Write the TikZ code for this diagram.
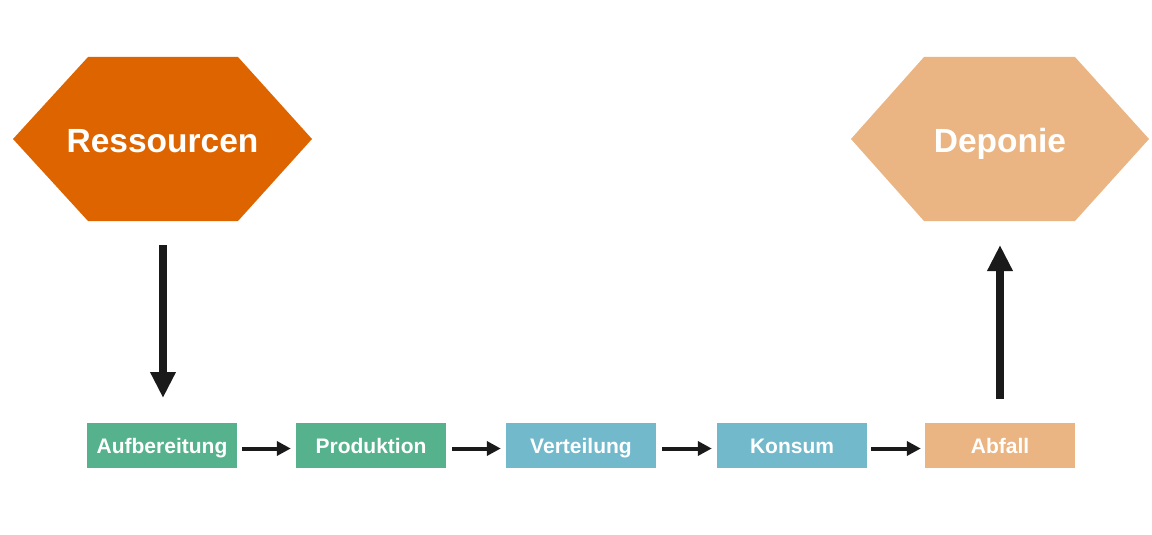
\documentclass[tikz,border=0pt]{standalone}
\usepackage{fontspec}
\setmainfont{Liberation Sans}
\usetikzlibrary{arrows.meta}
\definecolor{cRes}{HTML}{DE6400}
\definecolor{cDep}{HTML}{EBB483}
\definecolor{cGreen}{HTML}{56B28C}
\definecolor{cBlue}{HTML}{72B9CC}
\definecolor{cArrow}{HTML}{1A1A1A}
\tikzset{
  stepbox/.style={rectangle, minimum width=150pt, minimum height=45pt, inner sep=0pt,
    text height=15pt, text depth=0pt,
    text=white, font=\fontsize{21}{24}\selectfont\bfseries},
  hextext/.style={text=white, font=\fontsize{33.5}{38}\selectfont\bfseries, inner sep=0pt,
    text height=24pt, text depth=0pt},
  bigarrow/.style={draw=cArrow, line width=8pt, -{Triangle[length=26pt,width=24pt]}},
  smallarrow/.style={draw=cArrow, line width=4pt, -{Triangle[length=14pt,width=14pt]}},
}
\begin{document}
\begin{tikzpicture}[x=1pt,y=-1pt]
\useasboundingbox (0,0) rectangle (1152,535);
% hexagons
\fill[cRes] (13,139) -- (88,57) -- (238,57) -- (312,139) -- (238,221) -- (88,221) -- cycle;
\node[hextext] (res) at (162.5,140) {Ressourcen};
\fill[cDep] (851,139) -- (924,57) -- (1075,57) -- (1149,139) -- (1075,221) -- (924,221) -- cycle;
\node[hextext] (dep) at (1000,140) {Deponie};
% boxes
\node[stepbox, fill=cGreen] (auf) at (162,445.5) {Aufbereitung};
\node[stepbox, fill=cGreen] (pro) at (371,445.5) {Produktion};
\node[stepbox, fill=cBlue] (ver) at (581,445.5) {Verteilung};
\node[stepbox, fill=cBlue] (kon) at (792,445.5) {Konsum};
\node[stepbox, fill=cDep] (abf) at (1000,445.5) {Abfall};
% coordinates for big arrows
\coordinate (a1s) at (163,245);
\coordinate (a1e) at (163,398);
\coordinate (a2s) at (1000,399);
\coordinate (a2e) at (1000,245);
\draw[bigarrow] (a1s) -- (a1e);
\draw[bigarrow] (a2s) -- (a2e);
% small arrows
\draw[smallarrow] ([xshift=5pt,yshift=-3pt]auf.east) -- ([xshift=-5pt,yshift=-3pt]pro.west);
\draw[smallarrow] ([xshift=6pt,yshift=-3pt]pro.east) -- ([xshift=-5pt,yshift=-3pt]ver.west);
\draw[smallarrow] ([xshift=6pt,yshift=-3pt]ver.east) -- ([xshift=-5pt,yshift=-3pt]kon.west);
\draw[smallarrow] ([xshift=4pt,yshift=-3pt]kon.east) -- ([xshift=-4pt,yshift=-3pt]abf.west);
\end{tikzpicture}
\end{document}
